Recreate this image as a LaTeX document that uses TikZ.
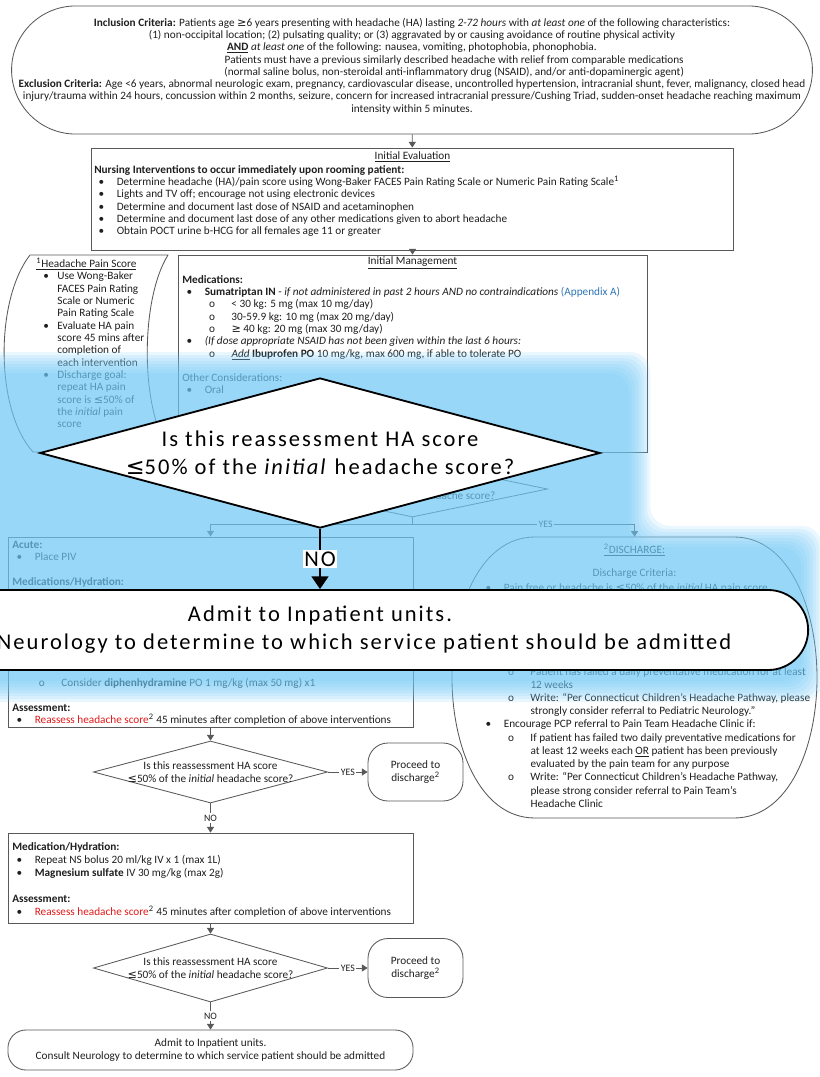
\documentclass[tikz,border=0pt]{standalone}
\usepackage{fontspec}
\setmainfont{Carlito}
\newfontfamily\symfont{DejaVu Sans}
\newfontfamily\bigface[LetterSpace=9]{Carlito}
\usetikzlibrary{shapes.geometric,shapes.misc,arrows.meta}
\definecolor{Mcolorline}{gray}{0.35}
\definecolor{Mcolortext}{gray}{0.12}
\definecolor{Mcolorglow}{RGB}{112,203,248}
\definecolor{Mcolorlink}{RGB}{47,117,181}
\definecolor{Mcolorred}{RGB}{225,25,25}
\newcommand{\bul}{\hspace*{3pt}\makebox[13pt][l]{\textbullet}}
\newcommand{\sbul}{\hspace*{19pt}\makebox[16pt][l]{o}}
\newcommand{\scont}{\hspace*{35pt}}
\newcommand{\pbul}{\hspace*{5pt}\makebox[10pt][l]{\textbullet}}
\newcommand{\pcont}{\hspace*{15pt}}
\tikzset{
  box/.style={draw=Mcolorline, line width=0.6pt},
  txt/.style={font=\fontsize{8}{8.75}\selectfont, text=Mcolortext, inner sep=0pt, align=left, anchor=north west},
  ctxt/.style={font=\fontsize{8}{8.75}\selectfont, text=Mcolortext, inner sep=0pt, align=center},
  arr/.style={draw=Mcolorline, line width=0.6pt, -{Triangle[width=5pt,length=4pt]}},
  lbl/.style={font=\fontsize{7}{7}\selectfont, fill=white, inner sep=1pt, text=Mcolortext},
  qbox/.style={box, diamond, inner sep=0pt},
  bigtext/.style={font=\bigface\fontsize{16}{20}\selectfont, align=center},
  bigdia/.style={diamond, draw, line width=1.3pt, fill=white, inner sep=0pt, minimum width=14cm, minimum height=3.75cm},
  bigbox/.style={bigtext, draw, line width=1.3pt, fill=white, rounded corners=1cm, minimum width=24.4cm, minimum height=2cm},
  bigarr/.style={line width=0.9pt, -{Triangle[width=12pt,length=9pt]}}
}
\begin{document}
\begin{tikzpicture}[x=0.025cm,y=-0.025cm]
\path[fill=white,use as bounding box] (0,0) rectangle (820,1077);
\clip (0,0) rectangle (820,1077);

\node[box, rounded rectangle, minimum width=20.25cm, minimum height=3.2cm] (top) at (412,70) {};
\node[ctxt] (crit) at (412,66) {\textbf{Inclusion Criteria:} Patients age {\symfont ≥}6 years presenting with headache (HA) lasting \textit{2-72 hours} with \textit{at least one} of the following characteristics:\\
(1) non-occipital location; (2) pulsating quality; or (3) aggravated by or causing avoidance of routine physical activity\\
\textbf{\underline{AND}} \textit{at least one} of the following: nausea, vomiting, photophobia, phonophobia.\\
\hspace*{60pt}Patients must have a previous similarly described headache with relief from comparable medications\\
\hspace*{60pt}(normal saline bolus, non-steroidal anti-inflammatory drug (NSAID), and/or anti-dopaminergic agent)\\
\textbf{Exclusion Criteria:} Age <6 years, abnormal neurologic exam, pregnancy, cardiovascular disease, uncontrolled hypertension, intracranial shunt, fever, malignancy, closed head\\
injury/trauma within 24 hours, concussion within 2 months, seizure, concern for increased intracranial pressure/Cushing Triad, sudden-onset headache reaching maximum\\
intensity within 5 minutes.};

\node[box, minimum width=16.025cm, minimum height=2.55cm] (ie) at (412.5,199) {};
\node[ctxt] (ietitle) at (412.5,157) {\underline{Initial Evaluation}};
\node[txt] (iebody) at (94,165) {\textbf{Nursing Interventions to occur immediately upon rooming patient:}\\
\bul Determine headache (HA)/pain score using Wong-Baker FACES Pain Rating Scale or Numeric Pain Rating Scale\textsuperscript{1}\\
\bul Lights and TV off; encourage not using electronic devices\\
\bul Determine and document last dose of NSAID and acetaminophen\\
\bul Determine and document last dose of any other medications given to abort headache\\
\bul Obtain POCT urine b-HCG for all females age 11 or greater};

\draw[box] (30,255) -- (168,255) .. controls (140,300) and (140,410) .. (170,452) -- (33,452) .. controls (-5,410) and (-5,300) .. (30,255);
\node[txt] (paintxt) at (36,258) {\underline{\textsuperscript{1}Headache Pain Score}\\
\pbul Use Wong-Baker\\ \pcont FACES Pain Rating\\ \pcont Scale or Numeric\\ \pcont Pain Rating Scale\\
\pbul Evaluate HA pain\\ \pcont score 45 mins after\\ \pcont completion of\\ \pcont each intervention\\
\pbul Discharge goal:\\ \pcont repeat HA pain\\ \pcont score is {\symfont ≤}50\% of\\ \pcont the \textit{initial} pain\\ \pcont score};

\node[box, minimum width=11.725cm, minimum height=4.925cm] (im) at (412.5,353.5) {};
\node[ctxt] (imtitle) at (412.5,263) {\underline{Initial Management}};
\node[txt] (imbody) at (182,275) {\textbf{Medications:}\\
\bul \textbf{Sumatriptan IN} - \textit{if not administered in past 2 hours AND no contraindications} \textcolor{Mcolorlink}{(Appendix A)}\\
\sbul < 30 kg: 5 mg (max 10 mg/day)\\
\sbul 30-59.9 kg: 10 mg (max 20 mg/day)\\
\sbul {\symfont ≥} 40 kg: 20 mg (max 30 mg/day)\\
\bul \textit{(If dose appropriate NSAID has not been given within the last 6 hours:}\\
\sbul \textit{\underline{Add}} \textbf{Ibuprofen PO} 10 mg/kg, max 600 mg, if able to tolerate PO\\[8.75pt]
Other Considerations:\\
\bul Oral};

\node[qbox, minimum width=6.75cm, minimum height=1.4cm, label={[ctxt]center:{Is this reassessment HA score\\{\symfont ≤}50\% of the \textit{initial} headache score?}}] (q1) at (412.5,489) {};

\node[box, minimum width=10.125cm, minimum height=4.75cm] (acute) at (210.5,632) {};
\node[txt] (acutetop) at (12,541) {\textbf{Acute:}\\ \bul Place PIV\\[8.75pt] \textbf{Medications/Hydration:}};
\node[txt] (acutelow) at (12,678) {\sbul Consider \textbf{diphenhydramine} PO 1 mg/kg (max 50 mg) x1\\[8.75pt]
\textbf{Assessment:}\\
\bul \textcolor{Mcolorred}{Reassess headache score}\textsuperscript{2} 45 minutes after completion of above interventions};

\node[minimum width=9.125cm, minimum height=7.025cm] (dis) at (634.5,677.5) {};
\draw[box] (535,537) -- (734,537) .. controls (790,537) and (817,610) .. (817,678) .. controls (817,745) and (790,818) .. (734,818) -- (535,818) .. controls (479,818) and (452,745) .. (452,678) .. controls (452,610) and (479,537) .. cycle;
\node[ctxt] (distitle) at (634.5,550) {\underline{\textsuperscript{2}DISCHARGE:}};
\node[ctxt] (discrit) at (634.5,574) {Discharge Criteria:};
\node[txt] (disfirst) at (481,583) {\bul Pain free or headache is {\symfont ≤}50\% of the \textit{initial} HA pain score};
\node[txt, font=\fontsize{8}{9.4}\selectfont] (dislow) at (481,667) {\sbul Patient has failed a daily preventative medication for at least\\
\scont 12 weeks\\
\sbul Write: ``Per Connecticut Children's Headache Pathway, please\\
\scont strongly consider referral to Pediatric Neurology.''\\
\bul Encourage PCP referral to Pain Team Headache Clinic if:\\
\sbul If patient has failed two daily preventative medications for\\
\scont at least 12 weeks each \underline{OR} patient has been previously\\
\scont evaluated by the pain team for any purpose\\
\sbul Write: ``Per Connecticut Children's Headache Pathway,\\
\scont please strong consider referral to Pain Team's\\
\scont Headache Clinic};

\node[qbox, minimum width=5.85cm, minimum height=1.55cm, label={[ctxt]center:{Is this reassessment HA score\\{\symfont ≤}50\% of the \textit{initial} headache score?}}] (q2) at (210.5,772) {};
\node[box, ctxt, rounded corners=0.5cm, minimum width=2.375cm, minimum height=1.45cm] (p1) at (415.5,772) {Proceed to\\discharge\textsuperscript{2}};

\node[box, minimum width=10.125cm, minimum height=2.25cm] (mh) at (210.5,878) {};
\node[txt, font=\fontsize{8}{9.3}\selectfont] (mhbody) at (12,842) {\textbf{Medication/Hydration:}\\
\bul Repeat NS bolus 20 ml/kg IV x 1 (max 1L)\\
\bul \textbf{Magnesium sulfate} IV 30 mg/kg (max 2g)\\[9.3pt]
\textbf{Assessment:}\\
\bul \textcolor{Mcolorred}{Reassess headache score}\textsuperscript{2} 45 minutes after completion of above interventions};

\node[qbox, minimum width=5.85cm, minimum height=1.7cm, label={[ctxt]center:{Is this reassessment HA score\\{\symfont ≤}50\% of the \textit{initial} headache score?}}] (q3) at (210.5,968) {};
\node[box, ctxt, rounded corners=0.5cm, minimum width=2.375cm, minimum height=1.475cm] (p2) at (415.5,968) {Proceed to\\discharge\textsuperscript{2}};
\node[box, ctxt, rounded corners=0.45cm, minimum width=10.125cm, minimum height=1cm] (fin) at (210.5,1050) {Admit to Inpatient units.\\Consult Neurology to determine to which service patient should be admitted};

\draw[arr] (top) -- (ie);
\draw[arr] (ie) -- (im);
\draw[arr] (im) -- (q1);
\draw[arr] (q1.south) -- ++(0,7) -| (acute.north);
\draw[arr] (q1.south) -- ++(0,7) -| node[lbl, pos=0.3] {YES} (dis.north);
\draw[arr] (acute) -- (q2);
\draw[arr] (q2) -- node[lbl] {YES} (p1);
\draw[arr] (q2) -- node[lbl] {NO} (mh);
\draw[arr] (mh) -- (q3);
\draw[arr] (q3) -- node[lbl] {YES} (p2);
\draw[arr] (q3) -- node[lbl] {NO} (fin);

\foreach \d in {0,3,...,21}
  \fill[Mcolorglow, fill opacity=0.14, rounded corners=0.5cm] (-30,352+\d) -- (650-\d,352+\d) -- (650-\d,526+\d) -- (822-\d,526+\d) -- (822-\d,702-\d) -- (-30,702-\d) -- cycle;

\node[bigdia, label={[bigtext]center:{Is this reassessment HA score\\{\symfont ≤}50\% of the \textit{initial} headache score?}}] (bq) at (320,453) {};
\node[bigbox] (badm) at (320,630) {Admit to Inpatient units.\\Consult Neurology to determine to which service patient should be admitted};
\draw[bigarr] (bq) -- node[bigtext, fill=white, inner sep=1pt] (nolbl) {NO} (badm);
\end{tikzpicture}
\end{document}
